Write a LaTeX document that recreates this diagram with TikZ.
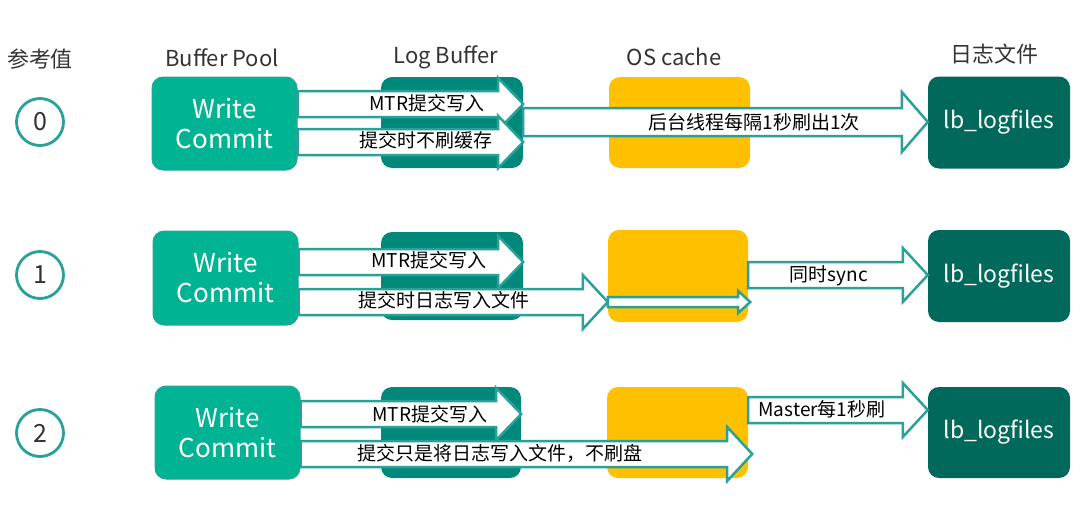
\documentclass[tikz,border=0pt]{standalone}
\usepackage{fontspec}
\setmainfont{Noto Sans CJK SC}
\usetikzlibrary{calc}
\definecolor{wcgreen}{HTML}{00B493}
\definecolor{wcborder}{HTML}{2AA696}
\definecolor{lbteal}{HTML}{00897B}
\definecolor{lfdark}{HTML}{00695C}
\definecolor{osyellow}{HTML}{FFC000}
\definecolor{arrteal}{HTML}{2AA198}
\definecolor{headgray}{HTML}{333333}
\tikzset{
  box/.style={rounded corners=11pt, minimum width=#1, inner sep=0pt},
  wbox/.style={box=145pt, minimum height=93pt, fill=wcgreen, draw=wcborder, line width=1pt, text=white, align=center, font=\fontsize{26}{30}\selectfont},
  lbbox/.style={box=142pt, minimum height=91pt, fill=lbteal},
  osbox/.style={box=141pt, minimum height=91pt, fill=osyellow},
  lfbox/.style={box=142pt, minimum height=92pt, fill=lfdark, text=white, font=\fontsize{23}{28}\selectfont},
  head/.style={text=headgray, font=\fontsize{22}{25}\selectfont, inner sep=0pt},
  numcirc/.style={circle, draw=arrteal, line width=2.8pt, fill=white, minimum size=47pt, inner sep=0pt, text=headgray, font=\fontsize{25}{28}\selectfont},
  lbl/.style={text=black, font=\fontsize{19}{22}\selectfont, inner sep=0pt},
  blockarrow/.style={draw=arrteal, fill=white, line width=2.5pt, line join=miter}
}
\newcommand{\barrow}[5]{%
  \draw[blockarrow] let \p1=(#1), \p2=(#2) in
   (\x1,\y1+#3pt) -- (\x2-#5pt,\y1+#3pt) -- (\x2-#5pt,\y1+#4pt) -- (\x2,\y1)
   -- (\x2-#5pt,\y1-#4pt) -- (\x2-#5pt,\y1-#3pt) -- (\x1,\y1-#3pt) -- cycle;}
\begin{document}
\begin{tikzpicture}[x=1pt,y=-1pt]
\useasboundingbox (0,0) rectangle (1080,525);
% headings
\node[head] (hq) at (40,59) {参考值};
\node[head] (hbp) at (222,58) {Buffer Pool};
\node[head] (hlb) at (446,57) {Log Buffer};
\node[head] (hos) at (674,57) {OS cache};
\node[head] (hlf) at (994,54) {日志文件};
% circles
\node[numcirc] (c0) at (40,122) {0};
\node[numcirc] (c1) at (40,275) {1};
\node[numcirc] (c2) at (40,433) {2};
% row 0 boxes
\node[wbox] (wc0) at (224.5,123.5) {Write\\Commit};
\node[lbbox] (lb0) at (452,122.5) {};
\node[osbox] (os0) at (679.5,122.5) {};
\node[lfbox] (lf0) at (999,122.5) {lb\_logfiles};
% row 1 boxes
\node[wbox, minimum height=94pt] (wc1) at (225.5,278) {Write\\Commit};
\node[lbbox, minimum height=88pt] (lb1) at (452,276) {};
\node[osbox, minimum width=140pt, minimum height=92pt] (os1) at (678,276) {};
\node[lfbox] (lf1) at (999,276) {lb\_logfiles};
% row 2 boxes
\node[wbox] (wc2) at (227.5,432.5) {Write\\Commit};
\node[lbbox, minimum width=140pt] (lb2) at (451,432.5) {};
\node[osbox] (os2) at (677.5,432.5) {};
\node[lfbox, minimum height=91pt] (lf2) at (999,432.5) {lb\_logfiles};
% level coordinates
\coordinate (h01) at (0,104);
\coordinate (h02) at (0,142);
\coordinate (h03) at (0,122);
\coordinate (h11) at (0,262);
\coordinate (h12) at (0,302);
\coordinate (h14) at (0,275);
\coordinate (h21) at (0,414);
\coordinate (h22) at (0,454);
\coordinate (h23) at (0,410);
\coordinate (e13) at ($(os1.east |- h12)+(2,0)$);
\coordinate (e22) at ($(os2.east |- h22)+(4,0)$);
% row 0 arrows
\barrow{wc0.east |- h01}{lb0.east |- h01}{13}{26}{25}
\barrow{wc0.east |- h02}{lb0.east |- h02}{13}{26}{25}
\barrow{lb0.east |- h03}{lf0.west |- h03}{14}{30}{26}
\node[lbl] (t01) at (427,103) {MTR提交写入};
\node[lbl] (t02) at (426,140) {提交时不刷缓存};
\node[lbl] (t03) at (754,122) {后台线程每隔1秒刷出1次};
% row 1 arrows
\barrow{wc1.east |- h11}{lb1.east |- h11}{13}{26}{25}
\barrow{wc1.east |- h12}{os1.west |- h12}{13}{27}{25}
\barrow{os1.west |- h12}{e13}{5}{11}{12}
\barrow{os1.east |- h14}{lf1.west |- h14}{13}{27}{25}
\node[lbl] (t11) at (429,260) {MTR提交写入};
\node[lbl] (t12) at (444,300) {提交时日志写入文件};
\node[lbl] (t14) at (829,276) {同时sync};
% row 2 arrows
\barrow{wc2.east |- h21}{lb2.east |- h21}{13}{26}{25}
\barrow{wc2.east |- h22}{e22}{13}{27}{25}
\barrow{os2.east |- h23}{lf2.west |- h23}{13}{27}{25}
\node[lbl] (t21) at (430,414) {MTR提交写入};
\node[lbl] (t22) at (500,453) {提交只是将日志写入文件，不刷盘};
\node[lbl] (t23) at (822,409) {Master每1秒刷};
\end{tikzpicture}
\end{document}
